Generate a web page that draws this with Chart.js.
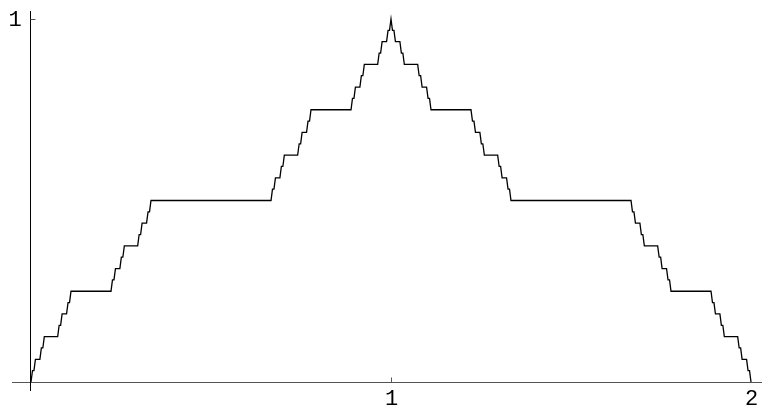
<!DOCTYPE html>
<html><head><meta charset="utf-8">
<script src="https://cdn.jsdelivr.net/npm/chart.js@4.4.1/dist/chart.umd.min.js"></script>
<style>html,body{margin:0;padding:0;background:#fff;}#wrap{width:762px;height:409px;}</style>
</head><body><div id="wrap"><canvas id="c" width="762" height="409"></canvas></div>
<script>
// Devil's staircase: plateau endpoints
const xs = [0,
  0.0041, 0.0082, 0.0123, 0.0247, 0.0288, 0.0329, 0.0370, 0.0741,
  0.0782, 0.0823, 0.0864, 0.0988, 0.1029, 0.1070, 0.1111, 0.2222,
  0.2263, 0.2305, 0.2346, 0.2469, 0.2510, 0.2551, 0.2593, 0.2963,
  0.3004, 0.3045, 0.3086, 0.3210, 0.3251, 0.3292, 0.3333, 0.6667,
  0.6708, 0.6749, 0.6790, 0.6914, 0.6955, 0.6996, 0.7037, 0.7407,
  0.7449, 0.7490, 0.7531, 0.7654, 0.7695, 0.7737, 0.7778, 0.8889,
  0.8930, 0.8971, 0.9012, 0.9136, 0.9177, 0.9218, 0.9259, 0.9630,
  0.9671, 0.9712, 0.9753, 0.9877, 0.9918, 0.9959, 1,
  1.0041, 1.0082, 1.0123, 1.0247, 1.0288, 1.0329, 1.0370, 1.0741,
  1.0782, 1.0823, 1.0864, 1.0988, 1.1029, 1.1070, 1.1111, 1.2222,
  1.2263, 1.2305, 1.2346, 1.2469, 1.2510, 1.2551, 1.2593, 1.2963,
  1.3004, 1.3045, 1.3086, 1.3210, 1.3251, 1.3292, 1.3333, 1.6667,
  1.6708, 1.6749, 1.6790, 1.6914, 1.6955, 1.6996, 1.7037, 1.7407,
  1.7449, 1.7490, 1.7531, 1.7654, 1.7695, 1.7737, 1.7778, 1.8889,
  1.8930, 1.8971, 1.9012, 1.9136, 1.9177, 1.9218, 1.9259, 1.9630,
  1.9671, 1.9712, 1.9753, 1.9877, 1.9918, 1.9959, 2];
const ys = [0,
  0.03125, 0.03125, 0.0625, 0.0625, 0.09375, 0.09375, 0.125, 0.125,
  0.15625, 0.15625, 0.1875, 0.1875, 0.21875, 0.21875, 0.25, 0.25,
  0.28125, 0.28125, 0.3125, 0.3125, 0.34375, 0.34375, 0.375, 0.375,
  0.40625, 0.40625, 0.4375, 0.4375, 0.46875, 0.46875, 0.5, 0.5,
  0.53125, 0.53125, 0.5625, 0.5625, 0.59375, 0.59375, 0.625, 0.625,
  0.65625, 0.65625, 0.6875, 0.6875, 0.71875, 0.71875, 0.75, 0.75,
  0.78125, 0.78125, 0.8125, 0.8125, 0.84375, 0.84375, 0.875, 0.875,
  0.90625, 0.90625, 0.9375, 0.9375, 0.96875, 0.96875, 1,
  0.96875, 0.96875, 0.9375, 0.9375, 0.90625, 0.90625, 0.875, 0.875,
  0.84375, 0.84375, 0.8125, 0.8125, 0.78125, 0.78125, 0.75, 0.75,
  0.71875, 0.71875, 0.6875, 0.6875, 0.65625, 0.65625, 0.625, 0.625,
  0.59375, 0.59375, 0.5625, 0.5625, 0.53125, 0.53125, 0.5, 0.5,
  0.46875, 0.46875, 0.4375, 0.4375, 0.40625, 0.40625, 0.375, 0.375,
  0.34375, 0.34375, 0.3125, 0.3125, 0.28125, 0.28125, 0.25, 0.25,
  0.21875, 0.21875, 0.1875, 0.1875, 0.15625, 0.15625, 0.125, 0.125,
  0.09375, 0.09375, 0.0625, 0.0625, 0.03125, 0.03125, 0];
const xTicks = [1, 2];
const xTickLabels = ["1", "2"];
const yTicks = [1];
const yTickLabels = ["1"];

const pts = xs.map((x, i) => ({x: x, y: ys[i]}));

const axesPlugin = {
  id: 'axesPlugin',
  afterDatasetsDraw(chart) {
    const ctx = chart.ctx, xs_ = chart.scales.x, ys_ = chart.scales.y;
    const x0 = Math.round(xs_.getPixelForValue(0)) - 0.5;
    const y0 = Math.round(ys_.getPixelForValue(0)) + 0.5;
    ctx.save();
    ctx.strokeStyle = '#555';
    ctx.lineWidth = 1.2;
    ctx.beginPath(); ctx.moveTo(12, y0); ctx.lineTo(762, y0); ctx.stroke();
    ctx.strokeStyle = '#000';
    ctx.lineWidth = 1;
    ctx.beginPath(); ctx.moveTo(x0, 11); ctx.lineTo(x0, 391); ctx.stroke();
    ctx.font = '22px "Liberation Mono"';
    ctx.fillStyle = '#000';
    ctx.textAlign = 'center'; ctx.textBaseline = 'middle';
    ctx.strokeStyle = '#555';
    xTicks.forEach((v, i) => {
      const px = Math.round(xs_.getPixelForValue(v)) + 0.5;
      if (v < 2) { ctx.beginPath(); ctx.moveTo(px, y0); ctx.lineTo(px, y0 - 5); ctx.stroke(); }
      ctx.fillText(xTickLabels[i], px, y0 + 17);
    });
    yTicks.forEach((v, i) => {
      const py = Math.round(ys_.getPixelForValue(v)) + 0.5;
      ctx.beginPath(); ctx.moveTo(x0, py); ctx.lineTo(x0 + 5, py); ctx.stroke();
      ctx.fillText(yTickLabels[i], 15, py + 1);
    });
    ctx.restore();
  }
};

new Chart(document.getElementById('c'), {
  type: 'scatter',
  data: { datasets: [{ data: pts, showLine: true, borderColor: '#000', borderWidth: 1.3, pointRadius: 0, tension: 0, clip: false }] },
  options: {
    responsive: false, animation: false, devicePixelRatio: 1,
    layout: { padding: { left: 31, right: 11, top: 19, bottom: 27 } },
    plugins: { legend: { display: false }, tooltip: { enabled: false } },
    scales: {
      x: { type: 'linear', min: 0, max: 2, display: false },
      y: { type: 'linear', min: 0, max: 1, display: false }
    }
  },
  plugins: [axesPlugin]
});
</script></body></html>
